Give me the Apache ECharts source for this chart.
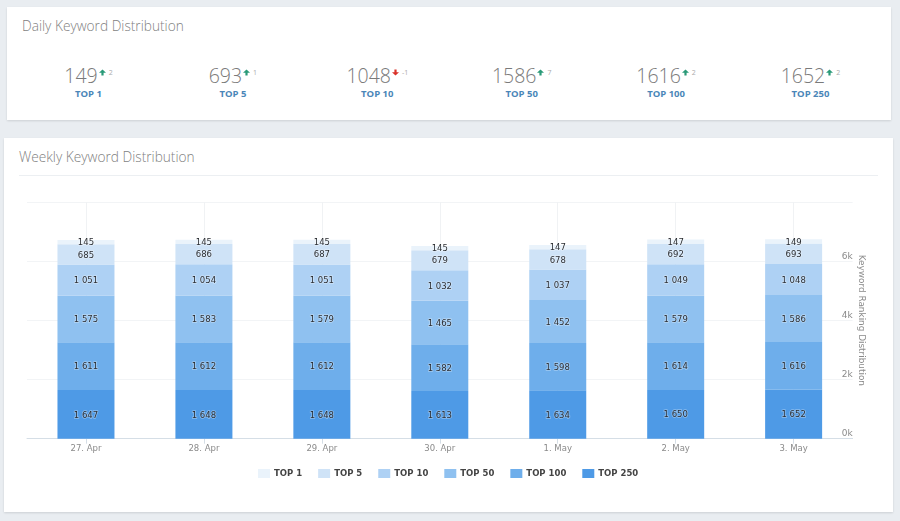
<!DOCTYPE html>
<html><head><meta charset="utf-8">
<script src="https://cdn.jsdelivr.net/npm/echarts@6/dist/echarts.min.js"></script>
<style>
html,body{margin:0;padding:0;width:900px;height:521px;overflow:hidden;background:#e9edf1;font-family:"Open Sans",sans-serif}
.card{position:absolute;background:#fff;box-shadow:0 1px 2px rgba(0,0,0,.12)}
#c1{left:7px;top:7px;width:884px;height:113px}
#c2{left:4px;top:138px;width:889px;height:374px}
.title{position:absolute;font-weight:300;font-size:13.7px;color:#7f7f7f;white-space:nowrap;line-height:20px}
#sep{position:absolute;left:19px;top:175px;width:859px;height:1px;background:#eceff2}
.kpi{position:absolute;top:62px;width:144px;text-align:center}
.row{display:flex;justify-content:center;align-items:flex-start;height:28px}
.num{font-weight:300;font-size:19.5px;color:#7a7a7a;line-height:28px}
.arr{margin:7px 2px 0 1px;width:7px;height:7px}
.delta{font-size:7px;color:#aaa;line-height:10px;margin-top:6px;margin-left:1px}
.lab{font-weight:700;font-size:9.5px;color:#4a86b8;line-height:12px;margin-top:-2px}
#chart{position:absolute;left:0;top:0;width:900px;height:521px}
</style></head>
<body>
<div class="card" id="c1"></div>
<div class="card" id="c2"></div>
<div class="title" style="left:22px;top:16px">Daily Keyword Distribution</div>
<div class="title" style="left:19px;top:147px">Weekly Keyword Distribution</div>
<div id="sep"></div>
<div id="kpis"></div>
<div id="chart"></div>
<script>
const categories = ['27. Apr','28. Apr','29. Apr','30. Apr','1. May','2. May','3. May'];
const seriesNames = ['TOP 1','TOP 5','TOP 10','TOP 50','TOP 100','TOP 250'];
const top1   = [145,145,145,145,147,147,149];
const top5   = [685,686,687,679,678,692,693];
const top10  = [1051,1054,1051,1032,1037,1049,1048];
const top50  = [1575,1583,1579,1465,1452,1579,1586];
const top100 = [1611,1612,1612,1582,1598,1614,1616];
const top250 = [1647,1648,1648,1613,1634,1650,1652];
const colors = ['#eaf3fb','#cfe3f7','#aed1f4','#8fc1f0','#6eaeeb','#4e9ae6'];
const yTicks = {min:0,max:8000,interval:2000};
const kpiValues = [149,693,1048,1586,1616,1652];
const kpiDeltas = [2,1,-1,7,2,2];

const seriesValues = [top1,top5,top10,top50,top100,top250];
const kpiHost = document.getElementById('kpis');
seriesNames.forEach((n,i)=>{
  const up = kpiDeltas[i]>=0, col = up?'#2a9a78':'#d9322a';
  const path = up?'M3.5 0.5L7 3.7H4.6V6.5H2.4V3.7H0Z':'M3.5 6.5L7 3.3H4.6V0.5H2.4V3.3H0Z';
  const d=document.createElement('div');d.className='kpi';d.style.left=(16.5+i*144.4)+'px';
  d.innerHTML=`<div class="row"><span class="num">${kpiValues[i]}</span><svg class="arr" viewBox="0 0 7 7"><path d="${path}" fill="${col}"/></svg><span class="delta">${kpiDeltas[i]}</span></div><div class="lab">${n}</div>`;
  kpiHost.appendChild(d);
});

const fmt = v => { const s=String(v); return s.length>3 ? s.slice(0,-3)+' '+s.slice(-3) : s; };
const chart = echarts.init(document.getElementById('chart'),null,{renderer:'canvas'});
const series = seriesNames.map((n,i)=>({
  name:n,type:'bar',stack:'total',barWidth:57,data:seriesValues[i],
  itemStyle:{color:colors[i]},
  label:{show:true,position:'inside',offset:[0,1],formatter:p=>fmt(p.value),
    fontFamily:'DejaVu Sans',fontSize:8.5,fontWeight:500,color:'#2b2e33',
    textBorderColor:'rgba(255,255,255,.35)',textBorderWidth:1.5}
})).reverse();
chart.setOption({
  animation:false,backgroundColor:'transparent',
  grid:{left:27,width:825.6,top:202,height:236.7,containLabel:false},
  legend:{data:seriesNames,top:464,left:253,itemWidth:12,itemHeight:9,itemGap:16,icon:'rect',
    textStyle:{fontFamily:'DejaVu Sans',fontSize:8.5,fontWeight:'bold',color:'#444',padding:[0,0,0,-1]}},
  xAxis:{type:'category',data:categories,
    axisLine:{lineStyle:{color:'#d5dee6'}},
    axisTick:{show:true,alignWithLabel:true,length:5,lineStyle:{color:'#d5dee6'}},
    splitLine:{show:true,alignWithLabel:true,showMinLine:true,showMaxLine:true,lineStyle:{color:'#f0f2f4'}},
    axisLabel:{fontFamily:'DejaVu Sans',fontSize:8.5,color:'#8a8a8a',margin:6}},
  yAxis:{type:'value',position:'right',min:yTicks.min,max:yTicks.max,interval:yTicks.interval,
    axisLine:{show:false},axisTick:{show:false},
    splitLine:{lineStyle:{color:'#f2f4f6'}},
    axisLabel:{inside:true,showMaxLabel:false,margin:0,verticalAlign:'bottom',
      fontFamily:'DejaVu Sans',fontSize:9,color:'#8a8a8a',lineHeight:10,formatter:v=>(v/1000)+'k'},
    name:'Keyword Ranking Distribution',nameLocation:'middle',nameRotate:-90,nameGap:4,nameMoveOverlap:false,
    nameTextStyle:{fontFamily:'DejaVu Sans',fontSize:8.9,color:'#8a8a8a'}},
  series
});
</script>
</body></html>
